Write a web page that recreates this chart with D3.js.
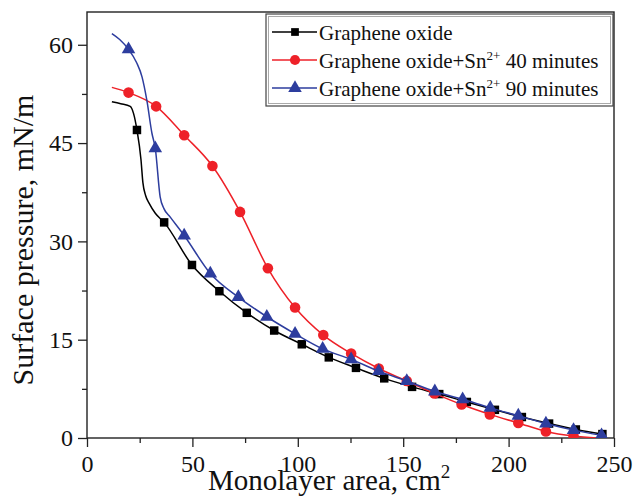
<!DOCTYPE html>
<html>
<head>
<meta charset="utf-8">
<script src="https://cdn.jsdelivr.net/npm/d3@7"></script>
<style>
  body { margin: 0; background: #fff; }
  text { font-family: "Liberation Serif", "Times New Roman", "DejaVu Serif", serif !important; }
</style>
</head>
<body>
<svg id="chart" width="636" height="501"></svg>
<script>
// marker positions (area cm2, pressure mN/m)
let goArea = [23.7, 36.6, 49.8, 62.8, 75.8, 88.8, 101.9, 114.7, 127.6, 141, 154.2, 167.1, 180.2, 193.5, 206.3, 219.2, 231.9, 244.5];
let goPress = [47.0, 32.9, 26.4, 22.4, 19.1, 16.4, 14.3, 12.3, 10.7, 9.1, 7.8, 6.7, 5.5, 4.3, 3.2, 2.2, 1.3, 0.6];

let sn40Area = [19.7, 32.8, 46.1, 59.5, 72.6, 85.8, 98.7, 112.1, 125.3, 138.4, 151.7, 164.8, 177.7, 191.1, 204.6, 217.7, 230.8];
let sn40Press = [52.7, 50.6, 46.2, 41.5, 34.5, 25.9, 19.9, 15.7, 12.9, 10.6, 8.7, 6.8, 5.1, 3.6, 2.3, 1.0, 0.3];

let sn90Area = [19.7, 32.4, 46.1, 58.5, 71.8, 85.3, 98.7, 111.8, 125.3, 138.4, 151.7, 165, 178.2, 191.3, 204.6, 217.7, 230.8, 244.1];
let sn90Press = [59.3, 44.2, 30.9, 25.1, 21.5, 18.5, 15.9, 13.6, 12.0, 10.2, 8.7, 7.1, 5.9, 4.6, 3.4, 2.2, 1.2, 0.4];

// extra trace points between markers (start of the curves / tail)
let goTraceArea = [11.8, 16, 20.5, 22.1, 25.6, 26.5, 27.8, 29.5, 32.4];
let goTracePress = [51.3, 51.0, 50.6, 49.5, 42.5, 39.0, 37.0, 35.8, 34.3];
let sn40TraceArea = [11.8, 242];
let sn40TracePress = [53.5, 0.0];
let sn90TraceArea = [11.8, 15.5, 23.5, 26.1, 28.4, 30.8, 34.7, 36.5, 39.5];
let sn90TracePress = [61.7, 60.8, 57.3, 55.1, 51.5, 46.5, 36.8, 35.0, 33.7];

let yTicks = [0, 15, 30, 45, 60];
let xTicks = [0, 50, 100, 150, 200, 250];

let seriesNames = ["Graphene oxide", "Graphene oxide+Sn", "Graphene oxide+Sn"];
let seriesSup = ["", "2+", "2+"];
let seriesTail = ["", " 40 minutes", " 90 minutes"];
let seriesColors = ["#000000", "#ee2128", "#2d3d9e"];
let seriesShapes = [d3.symbolSquare, d3.symbolCircle, d3.symbolTriangle];

let serif = "'Liberation Serif', 'Times New Roman', serif";

let svg = d3.select("#chart");

let pLeft = 87, pRight = 614, pTop = 12, pBottom = 438;

let x = d3.scaleLinear().domain([0, 250]).range([pLeft, pRight]);
let y = d3.scaleLinear().domain([0, 65]).range([pBottom, pTop]);

let zip = (a, b) => a.map((v, i) => [v, b[i]]);
let merge = (ma, mp, ta, tp) => zip(ma, mp).concat(zip(ta, tp)).sort((p, q) => p[0] - q[0]);

let series = [
    { marks: zip(goArea, goPress), trace: merge(goArea, goPress, goTraceArea, goTracePress) },
    { marks: zip(sn40Area, sn40Press), trace: merge(sn40Area, sn40Press, sn40TraceArea, sn40TracePress) },
    { marks: zip(sn90Area, sn90Press), trace: merge(sn90Area, sn90Press, sn90TraceArea, sn90TracePress) }
];

svg.append("clipPath").attr("id", "plotclip")
    .append("rect")
    .attr("x", pLeft).attr("y", pTop)
    .attr("width", pRight - pLeft).attr("height", pBottom - pTop);

// minor ticks
let xMinor = d3.range(25, 250, 50);
let yMinor = d3.range(7.5, 65, 15);

svg.append("g")
    .attr("transform", "translate(0," + pBottom + ")")
    .call(d3.axisBottom(x).tickValues(xMinor).tickSize(5).tickSizeOuter(0).tickFormat(""))
    .call(g => g.select(".domain").remove())
    .selectAll("line").attr("stroke", "#222").attr("stroke-width", 1.3);

svg.append("g")
    .attr("transform", "translate(" + pLeft + ",0)")
    .call(d3.axisLeft(y).tickValues(yMinor).tickSize(5).tickSizeOuter(0).tickFormat(""))
    .call(g => g.select(".domain").remove())
    .selectAll("line").attr("stroke", "#222").attr("stroke-width", 1.3);

// major ticks
let xAxis = svg.append("g")
    .attr("transform", "translate(0," + pBottom + ")")
    .call(d3.axisBottom(x).tickValues(xTicks).tickSize(9).tickSizeOuter(0).tickPadding(8));
xAxis.attr("font-family", serif).attr("font-size", 24);
xAxis.select(".domain").remove();
xAxis.selectAll("line").attr("stroke", "#222").attr("stroke-width", 1.3);
xAxis.selectAll("text").attr("fill", "#111");

let yAxis = svg.append("g")
    .attr("transform", "translate(" + pLeft + ",0)")
    .call(d3.axisLeft(y).tickValues(yTicks).tickSize(9).tickSizeOuter(0).tickPadding(5));
yAxis.attr("font-family", serif).attr("font-size", 24);
yAxis.select(".domain").remove();
yAxis.selectAll("line").attr("stroke", "#222").attr("stroke-width", 1.3);
yAxis.selectAll("text").attr("fill", "#111");

// frame
svg.append("rect")
    .attr("x", pLeft).attr("y", pTop)
    .attr("width", pRight - pLeft).attr("height", pBottom - pTop)
    .attr("fill", "none").attr("stroke", "#222").attr("stroke-width", 1.4);

// curves
let line = d3.line()
    .x(d => x(d[0]))
    .y(d => y(d[1]))
    .curve(d3.curveMonotoneX);

let plot = svg.append("g").attr("clip-path", "url(#plotclip)");

series.forEach((s, i) => {
    plot.append("path")
        .datum(s.trace)
        .attr("d", line)
        .attr("fill", "none")
        .attr("stroke", seriesColors[i])
        .attr("stroke-width", 1.5);

    let sym = d3.symbol().type(seriesShapes[i]).size(i === 0 ? 72 : (i === 1 ? 88 : 80));
    plot.selectAll(".m" + i)
        .data(s.marks)
        .enter()
        .append("path")
        .attr("class", "m" + i)
        .attr("d", sym)
        .attr("transform", d => "translate(" + x(d[0]) + "," + y(d[1]) + ")")
        .attr("fill", seriesColors[i]);
});

// legend
let lg = svg.append("g").attr("font-family", serif);
lg.append("rect")
    .attr("x", 266).attr("y", 14)
    .attr("width", 347).attr("height", 92)
    .attr("fill", "#fff").attr("stroke", "#444").attr("stroke-width", 1.2);
lg.append("rect")
    .attr("x", 268.5).attr("y", 16.5)
    .attr("width", 342).attr("height", 87)
    .attr("fill", "none").attr("stroke", "#aaa").attr("stroke-width", 1);

seriesNames.forEach((name, i) => {
    let cy = 32 + i * 28;
    lg.append("line")
        .attr("x1", 272).attr("x2", 317)
        .attr("y1", cy).attr("y2", cy)
        .attr("stroke", seriesColors[i]).attr("stroke-width", 1.5);
    lg.append("path")
        .attr("d", d3.symbol().type(seriesShapes[i]).size(i === 0 ? 60 : 80))
        .attr("transform", "translate(295," + cy + ")")
        .attr("fill", seriesColors[i]);
    let t = lg.append("text")
        .attr("x", 319).attr("y", cy + 8)
        .attr("font-size", 21).attr("fill", "#111");
    t.append("tspan").text(name);
    if (seriesSup[i]) {
        t.append("tspan").attr("font-size", 13).attr("dy", -8).text(seriesSup[i]);
        t.append("tspan").attr("dy", 8).text(seriesTail[i]);
    }
});

// axis titles
svg.append("text")
    .attr("transform", "translate(33,240) rotate(-90)")
    .attr("text-anchor", "middle")
    .attr("font-family", serif)
    .attr("font-size", 30)
    .attr("fill", "#111")
    .text("Surface pressure, mN/m");

let xt = svg.append("text")
    .attr("x", 208).attr("y", 490)
    .attr("font-family", serif)
    .attr("font-size", 29)
    .attr("fill", "#111");
xt.append("tspan").text("Monolayer area, cm");
xt.append("tspan").attr("font-size", 19).attr("dy", -12).text("2");
</script>
</body>
</html>
